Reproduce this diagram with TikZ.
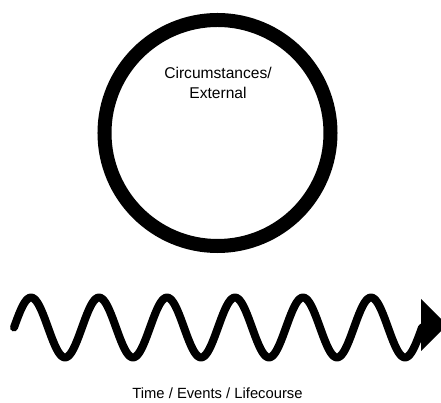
\documentclass[tikz,border=0pt]{standalone}
\usepackage{fontspec}
\setmainfont{Liberation Sans}
\usetikzlibrary{positioning}

\begin{document}
\begin{tikzpicture}[
  x=0.03cm, y=-0.03cm,
  ring/.style={draw=black, line width=0.42cm, circle, minimum size=6.78cm,
               inner sep=0pt},
  ringlabel/.style={font=\fontsize{13.3}{17}\selectfont, align=center},
  timeline/.style={draw=black, line width=0.24cm, line cap=round,
                   line join=round},
  timelabel/.style={font=\fontsize{12.6}{15}\selectfont, anchor=base},
]
\useasboundingbox (0,0) rectangle (441,403);

% circle
\node[ring] (circ) at (217.5,133) {};
\node[ringlabel] (circtext) at (218,83) {Circumstances/\\External};

% time wave
\coordinate (tstart) at (14,327.5);
\coordinate (tend) at (421,325);
\draw[timeline] (tstart) plot[domain=0:2160, samples=241]
  ({14+\x/360*68}, {327.5-30*sin(\x)});
\fill[black] (tend) ++(0,-26) -- ++(26,26) -- ++(-26,26) -- cycle;

\node[timelabel] (timetext) at (217.5,399) {Time / Events / Lifecourse};
\end{tikzpicture}
\end{document}
